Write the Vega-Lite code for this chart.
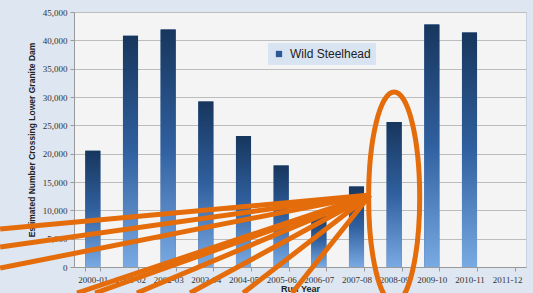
{
  "$schema": "https://vega.github.io/schema/vega-lite/v6.json",
  "width": 452,
  "height": 255,
  "autosize": {"type": "none"},
  "padding": {"left": 74, "top": 12, "right": 7, "bottom": 26},
  "background": "#dde6f1",
  "config": {
    "view": {"fill": "#f4f4f4", "stroke": "#c8d2df", "strokeWidth": 1},
    "font": "Liberation Sans"
  },
  "datasets": {
    "runs": [
      {"year": "2000-01", "y": 20500},
      {"year": "2001-02", "y": 40800},
      {"year": "2002-03", "y": 41900},
      {"year": "2003-04", "y": 29200},
      {"year": "2004-05", "y": 23100},
      {"year": "2005-06", "y": 17900},
      {"year": "2006-07", "y": 9500},
      {"year": "2007-08", "y": 14200},
      {"year": "2008-09", "y": 25600},
      {"year": "2009-10", "y": 42800},
      {"year": "2010-11", "y": 41400},
      {"year": "2011-12", "y": null}
    ],
    "arrows": [
      {"x": -2.46, "y": 6700},
      {"x": -2.46, "y": 3530},
      {"x": -2.46, "y": -180},
      {"x": -0.42, "y": -4590},
      {"x": 0.06, "y": -4590},
      {"x": 1.17, "y": -4590},
      {"x": 2.58, "y": -4590},
      {"x": 3.99, "y": -4590},
      {"x": 5.29, "y": -4590}
    ],
    "ring": [{"x": 8.0, "y": 12270}]
  },
  "encoding": {
    "y": {
      "field": "y", "type": "quantitative",
      "scale": {"domain": [0, 45000], "nice": false, "zero": false},
      "axis": {"values": [0,5000,10000,15000,20000,25000,30000,35000,40000,45000], "format": ",.0f", "title": "Estimated Number Crossing Lower Granite Dam", "labelFont": "Liberation Serif", "labelFontSize": 9, "labelColor": "#333333", "tickSize": 4, "tickColor": "#9a9a9a", "domainColor": "#9a9a9a", "gridColor": "#bdbdbd", "gridWidth": 1.2, "labelPadding": 3, "titleFontSize": 8.5, "titleFontWeight": "bold", "titlePadding": 6, "titleColor": "#222222"}
    }
  },
  "layer": [
    {
      "data": {"name": "runs"},
      "mark": {"type": "bar"},
      "encoding": {
        "x": {
          "field": "year", "type": "nominal",
          "scale": {"domain": ["2000-01","2001-02","2002-03","2003-04","2004-05","2005-06","2006-07","2007-08","2008-09","2009-10","2010-11","2011-12"], "paddingInner": 0.6, "paddingOuter": 0.3},
          "axis": {"title": "Run Year", "labelAngle": 0, "tickBand": "extent", "tickSize": 4, "labelFont": "Liberation Serif", "labelFontSize": 9, "labelPadding": 4, "labelColor": "#333333", "domainColor": "#9a9a9a", "tickColor": "#9a9a9a", "titleFontSize": 9, "titleFontWeight": "bold", "titlePadding": 0, "titleColor": "#222222", "grid": false}
        },
        "color": {
          "datum": "Wild Steelhead",
          "scale": {"range": ["#2b5994"]},
          "legend": {"orient": "none", "legendX": 194, "legendY": 31, "title": null, "fillColor": "#d9e4f2", "padding": 5, "symbolType": "square", "symbolSize": 40, "labelFontSize": 12, "labelFont": "Liberation Sans", "labelColor": "#222222", "symbolStrokeWidth": 0, "labelOffset": 5}
        }
      }
    },
    {
      "data": {"name": "runs"},
      "mark": {
        "type": "bar",
        "fill": {"gradient": "linear", "x1": 0, "y1": 0, "x2": 0, "y2": 1, "stops": [{"offset": 0, "color": "#17365d"}, {"offset": 0.5, "color": "#30609f"}, {"offset": 1, "color": "#79aae3"}]}
      },
      "encoding": {
        "x": {
          "field": "year", "type": "nominal",
          "scale": {"domain": ["2000-01","2001-02","2002-03","2003-04","2004-05","2005-06","2006-07","2007-08","2008-09","2009-10","2010-11","2011-12"], "paddingInner": 0.6, "paddingOuter": 0.3},
          "axis": null
        }
      }
    },
    {
      "data": {"name": "arrows"},
      "mark": {"type": "rule", "stroke": "#e46c0a", "strokeWidth": 5},
      "encoding": {
        "x": {"field": "x", "type": "quantitative", "scale": {"domain": [-0.5, 11.5], "nice": false, "zero": false}, "axis": null},
        "x2": {"datum": 7.36},
        "y2": {"datum": 12700}
      }
    },
    {
      "data": {"name": "ring"},
      "mark": {"type": "point", "shape": "M 0 -1 A 0.242 1 0 1 1 0 1 A 0.242 1 0 1 1 0 -1 Z", "size": 44521, "filled": false, "stroke": "#e46c0a", "strokeWidth": 5, "opacity": 1},
      "encoding": {
        "x": {"field": "x", "type": "quantitative", "scale": {"domain": [-0.5, 11.5], "nice": false, "zero": false}, "axis": null}
      }
    }
  ],
  "resolve": {"scale": {"x": "independent", "color": "independent"}, "axis": {"x": "independent"}}
}
